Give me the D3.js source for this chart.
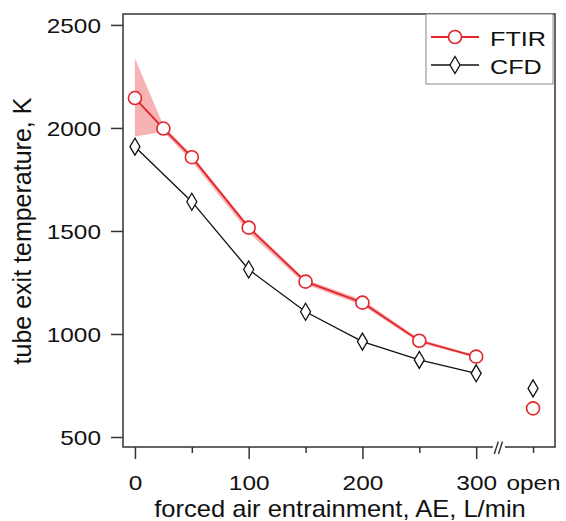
<!DOCTYPE html>
<html>
<head>
<meta charset="utf-8">
<script src="https://cdn.jsdelivr.net/npm/d3@7"></script>
<style>
  html, body { margin: 0; padding: 0; background: #fff; }
  svg { display: block; }
  text { font-family: "Liberation Sans", Arial, sans-serif; fill: #111; }
</style>
</head>
<body>
<div id="chart"></div>
<script>
// forced air entrainment (L/min) and temperatures (K)
const ftirFlows = [0, 25, 50, 100, 150, 200, 250, 300];
const ftirTemps = [2145, 1997, 1858, 1516, 1254, 1152, 967, 890];
const ftirLow   = [1958, 1982, 1838, 1492, 1240, 1140, 958, 884];
const ftirHigh  = [2338, 2012, 1870, 1528, 1264, 1166, 976, 896];
const cfdFlows  = [0, 50, 100, 150, 200, 250, 300];
const cfdTemps  = [1909, 1642, 1313, 1108, 963, 874, 809];
const openPos = 350;          // where the "open" case sits on the x axis
const ftirOpen = 639;
const cfdOpen = 736;
const yTicks = [500, 1000, 1500, 2000, 2500];
const xTickVals = [0, 50, 100, 150, 200, 250, 300, 350];
const xTickLabels = ["0", "", "100", "", "200", "", "300", "open"];
const xMajor = [0, 100, 200, 300];
const seriesNames = ["FTIR", "CFD"];

const W = 566, H = 521;
const box = {left: 123, right: 555, top: 14, bottom: 447};
const red = "#e3242b", pink = "#f7b3b3", frameCol = "#333";
const fontFam = '"Liberation Sans", Arial, sans-serif';

const svg = d3.select("#chart").append("svg").attr("width", W).attr("height", H);

const x = d3.scaleLinear().domain([-10.5, 369.3]).range([box.left, box.right]);
const y = d3.scaleLinear().domain([451.5, 2553]).range([box.bottom, box.top]);

// uncertainty band of FTIR
const ftirRows = ftirFlows.map((f, i) => ({f: f, t: ftirTemps[i], lo: ftirLow[i], hi: ftirHigh[i]}));
const cfdRows = cfdFlows.map((f, i) => ({f: f, t: cfdTemps[i]}));

svg.append("path")
    .datum(ftirRows)
    .attr("fill", pink)
    .attr("d", d3.area().x(d => x(d.f)).y0(d => y(d.lo)).y1(d => y(d.hi)));

// lines
const line = d3.line().x(d => x(d.f)).y(d => y(d.t));
svg.append("path").datum(cfdRows)
    .attr("fill", "none").attr("stroke", "#111").attr("stroke-width", 1.3)
    .attr("d", line);
svg.append("path").datum(ftirRows)
    .attr("fill", "none").attr("stroke", red).attr("stroke-width", 1.8)
    .attr("d", line);

// markers
function diamond(sel) {
  sel.attr("d", "M0,-8.5L5,0L0,8.5L-5,0Z")
     .attr("fill", "#fff").attr("stroke", "#111").attr("stroke-width", 1.3);
}
function ring(sel) {
  sel.attr("r", 6.5).attr("fill", "#fff").attr("stroke", red).attr("stroke-width", 1.6);
}

svg.selectAll(".cfd").data(cfdRows.concat([{f: openPos, t: cfdOpen}]))
  .enter().append("path").attr("class", "cfd")
    .attr("transform", d => "translate(" + x(d.f) + "," + y(d.t) + ")")
    .call(diamond);

svg.selectAll(".ftir").data(ftirRows.concat([{f: openPos, t: ftirOpen}]))
  .enter().append("circle").attr("class", "ftir")
    .attr("cx", d => x(d.f)).attr("cy", d => y(d.t))
    .call(ring);

// frame, bottom spine broken before "open"
const gapL = 493, gapR = 505;
svg.append("path")
    .attr("fill", "none").attr("stroke", frameCol).attr("stroke-width", 1.5)
    .attr("d", "M" + gapL + "," + box.bottom + "H" + box.left + "V" + box.top +
               "H" + box.right + "V" + box.bottom + "H" + gapR);
[494.3, 498.5].forEach(bx => {
  svg.append("line")
      .attr("x1", bx).attr("y1", box.bottom + 7)
      .attr("x2", bx + 4).attr("y2", box.bottom - 5.5)
      .attr("stroke", frameCol).attr("stroke-width", 1.4);
});

// axes
const sx = 1.22;
const yAxis = svg.append("g")
    .attr("transform", "translate(" + box.left + ",0)")
    .call(d3.axisLeft(y).tickValues(yTicks).tickFormat(d3.format("d"))
      .tickSize(12).tickSizeOuter(0));
yAxis.attr("font-family", fontFam);
yAxis.select(".domain").remove();
yAxis.selectAll(".tick line").attr("stroke", frameCol).attr("stroke-width", 1.5);
yAxis.selectAll(".tick text")
    .attr("x", 0).attr("dy", "0.36em")
    .attr("transform", "translate(-22,0) scale(" + sx + ",1)")
    .style("font-size", "20px").style("font-family", fontFam).attr("fill", "#111");

const xAxis = svg.append("g")
    .attr("transform", "translate(0," + box.bottom + ")")
    .call(d3.axisBottom(x).tickValues(xTickVals)
      .tickFormat((d, i) => xTickLabels[i]).tickSize(12).tickSizeOuter(0));
xAxis.attr("font-family", fontFam);
xAxis.select(".domain").remove();
xAxis.selectAll(".tick line")
    .attr("y2", d => xMajor.includes(d) ? 12 : 6)
    .attr("stroke", frameCol).attr("stroke-width", 1.5);
xAxis.selectAll(".tick text")
    .attr("y", 0).attr("dy", 0)
    .attr("transform", "translate(0,43) scale(" + sx + ",1)")
    .style("font-size", "20px").style("font-family", fontFam).attr("fill", "#111");

// axis titles
svg.append("text")
    .attr("transform", "translate(340,517) scale(1.11,1)")
    .attr("text-anchor", "middle")
    .style("font-size", "23px")
    .text("forced air entrainment, AE, L/min");

svg.append("text")
    .attr("transform", "translate(31,231) rotate(-90)")
    .attr("text-anchor", "middle")
    .style("font-size", "25px")
    .text("tube exit temperature, K");

// legend
const lg = svg.append("g");
lg.append("rect")
    .attr("x", 426).attr("y", box.top).attr("width", 127).attr("height", 70)
    .attr("fill", "#fff").attr("stroke", "#888").attr("stroke-width", 1);
seriesNames.forEach((name, i) => {
  const ly = 37 + i * 28;
  const col = i === 0 ? red : "#111";
  lg.append("line").attr("x1", 431).attr("x2", 479).attr("y1", ly).attr("y2", ly)
      .attr("stroke", col).attr("stroke-width", i === 0 ? 1.8 : 1.3);
  if (i === 0) {
    lg.append("circle").attr("cx", 455).attr("cy", ly).call(ring);
  } else {
    lg.append("path").attr("transform", "translate(455," + ly + ")").call(diamond);
  }
  lg.append("text")
      .attr("transform", "translate(490," + (ly + 8.5) + ") scale(1.2,1)")
      .style("font-size", "21px")
      .text(name);
});
</script>
</body>
</html>
